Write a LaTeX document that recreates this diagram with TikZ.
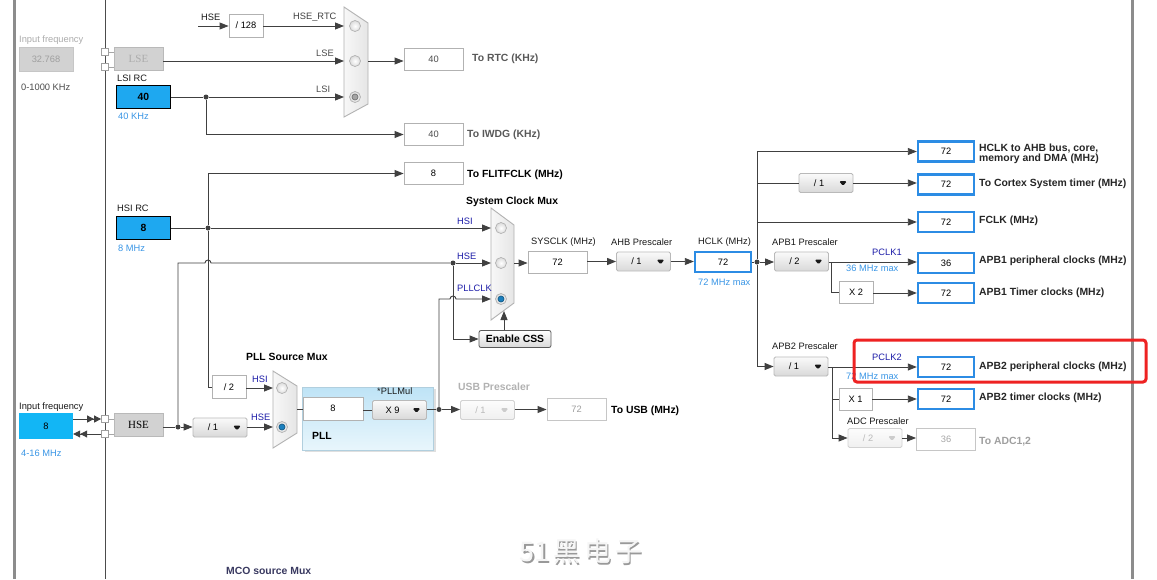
\documentclass[tikz,border=0pt]{standalone}
\usepackage{fontspec}
\setmainfont{Liberation Sans}
\newfontfamily\oscfont{Liberation Serif}
\newfontfamily\cjkfont{Noto Sans CJK SC}
\usepackage{xcolor}
\usepackage{tikz}
\usetikzlibrary{arrows, arrows.meta, shadows}

\newcommand\lblfont{\fontsize{9.3}{10.5}\selectfont}
\newcommand\hdrfont{\fontsize{10.4}{10.6}\selectfont\bfseries}

\definecolor{srcblue}{HTML}{1EA8F0}
\definecolor{inblue}{HTML}{12B6F5}
\definecolor{outblue}{HTML}{2C8CE4}
\definecolor{hintblue}{HTML}{3A96E6}
\definecolor{selnavy}{HTML}{1C1CA8}
\definecolor{radioblue}{HTML}{1A7FBE}
\definecolor{radiogray}{HTML}{A4A4A4}
\definecolor{wiregray}{HTML}{404040}
\definecolor{framegray}{HTML}{8C8C8C}
\definecolor{oscgray}{HTML}{D2D2D2}
\definecolor{pllTop}{HTML}{BEE3F6}
\definecolor{pllBot}{HTML}{E8F6FC}
\definecolor{markred}{HTML}{EE2222}

\tikzset{
	txt/.style={inner sep=0pt, anchor=west, font=\lblfont, text=black!90},
	hdr/.style={inner sep=0pt, anchor=west, font=\hdrfont, text=black!85},
	sel/.style={txt, text=selnavy},
	hint/.style={txt, text=hintblue},
	wire/.style={draw=wiregray, line width=0.9pt},
	arr/.style={wire, -{Triangle[length=9pt,width=7pt]}},
	arrtwo/.style={wire, -{Triangle[length=7pt,width=7pt]Triangle[length=7pt,width=7pt]}},
	valbox/.style={draw=gray!60, fill=white, line width=0.9pt, minimum width=59pt, minimum height=22pt, inner sep=0pt, font=\lblfont},
	outbox/.style={valbox, draw=outblue, line width=2.4pt, minimum width=56pt, minimum height=20pt},
	srcbox/.style={draw=black, line width=1.1pt, fill=srcblue, minimum width=54pt, minimum height=23pt, inner sep=0pt, font=\hdrfont},
	oscbox/.style={draw=gray!55, fill=oscgray, line width=0.9pt, minimum width=49pt, minimum height=23pt, inner sep=0pt, font=\oscfont\fontsize{11}{11}\selectfont},
	port/.style={draw=gray!75, fill=white, line width=0.8pt, minimum size=7pt, inner sep=0pt},
	dot/.style={circle, fill=wiregray, minimum size=5pt, inner sep=0pt},
	mux/.style={draw=gray!60, left color=gray!6, right color=gray!20, line width=0.9pt},
	radio/.style={circle, draw=gray!60, line width=0.7pt, minimum size=11pt, inner sep=0pt, inner color=white, outer color=gray!28},
	radioon/.style={radio, path picture={\filldraw[draw=#1!70!black, fill=#1] (path picture bounding box.center) circle (3pt);}},
	ddbase/.style={draw=gray!55, line width=0.8pt, rounded corners=1.5pt, top color=gray!4, bottom color=gray!30, minimum width=54pt, minimum height=19pt, inner sep=0pt, font=\lblfont,
		execute at begin node={\hbox to 36pt\bgroup\hss}, execute at end node={\hss\egroup\hskip14pt}},
	drop/.style={ddbase, path picture={\fill[#1] ([xshift=-14pt,yshift=2pt]path picture bounding box.east) -- ++(8pt,0pt) -- ++(-4pt,-5pt) -- cycle;}},
	dropbox/.style={drop=black!90},
	dropoff/.style={drop=gray!40, draw=gray!35, top color=gray!2, bottom color=gray!12, text=gray!55},
	cssbtn/.style={draw=black!65, line width=0.8pt, rounded corners=2pt, top color=white, bottom color=gray!30, minimum width=72pt, minimum height=17pt, inner sep=0pt, font=\hdrfont},
	pllpanel/.style={draw=pllTop!80!gray, top color=pllTop, bottom color=pllBot, minimum width=131pt, minimum height=63pt, inner sep=0pt, drop shadow={shadow xshift=2pt, shadow yshift=-2pt, opacity=0.25, fill=gray}}
}

\begin{document}
\begin{tikzpicture}[x=1pt, y=-1pt]
	\useasboundingbox (0,0) rectangle (1157,579);
	\fill[white] (0,0) rectangle (1157,579);
	\draw[framegray, line width=3pt] (14.5,0) -- (14.5,579);
	\draw[framegray, line width=3pt] (1132,0) -- (1132,579);
	\draw[black!70, line width=1pt] (105,0) -- (105,579);

	% low speed clocks
	\node[txt, text=gray!65] (lseFreqLbl) at (19,40) {Input frequency};
	\node[draw=gray!45, fill=oscgray, minimum width=54pt, minimum height=24pt, inner sep=0pt, font=\lblfont, text=gray!75] (lseFreq) at (46,59) {32.768};
	\node[txt, text=black!70] (lseRange) at (21,87) {0-1000 KHz};
	\node[port] (lseP1) at (105,52) {};
	\node[port] (lseP2) at (105,67) {};
	\node[oscbox, text=gray!65] (lse) at (138.5,58.5) {LSE};
	\draw[wire, draw=gray!70] (lseP1.east) -- (lseP1.east -| lse.west);
	\draw[wire, draw=gray!70] (lseP2.east) -- (lseP2.east -| lse.west);

	\node[txt] (lsiName) at (117,78) {LSI RC};
	\node[srcbox] (lsi) at (143.5,97) {40};
	\node[hint] (lsiHint) at (118,116) {40 KHz};

	\node[txt] (hseRtcLbl) at (201,17) {HSE};
	\coordinate (hseRtcTail) at (198,26);
	\node[valbox, minimum width=34pt, minimum height=23pt] (div128) at (246,25.5) {/ 128};
	\draw[arr] (hseRtcTail) -- (div128.west |- hseRtcTail);
	\node[txt, text=black!75] (hseRtcName) at (293,17) {HSE\_RTC};

	\draw[mux] (344,7) -- (368,23) -- (368,104) -- (344,117) -- cycle;
	\node[radio] (rtcR1) at (355,26) {};
	\node[radio] (rtcR2) at (355,61) {};
	\node[radioon=radiogray] (rtcR3) at (355,97) {};
	\coordinate (rtcA) at (344,26);
	\coordinate (rtcB) at (344,61);
	\coordinate (rtcC) at (344,97);
	\coordinate (rtcOut) at (368,61);
	\draw[arr] (div128.east |- rtcA) -- (rtcA);
	\draw[arr] (lse.east |- rtcB) -- (rtcB);
	\node[txt, text=black!70] (lseName) at (316,53) {LSE};
	\node[txt, text=black!70] (lsiLbl) at (316,89) {LSI};
	\node[dot] (lsiJ) at (206,97) {};
	\draw[wire] (lsi.east) -- (lsiJ);
	\draw[arr] (lsiJ) -- (rtcC);

	\node[valbox, text=black!70] (rtcVal) at (433.5,59) {40};
	\draw[arr] (rtcOut) -- (rtcOut -| rtcVal.west);
	\node[hdr, text=black!65] (rtcLbl) at (472,59) {To RTC (KHz)};
	\node[valbox, text=black!70] (iwdgVal) at (433.5,134.5) {40};
	\draw[arr] (lsiJ) |- (iwdgVal.west);
	\node[hdr, text=black!65] (iwdgLbl) at (467,135) {To IWDG (KHz)};

	% HSI and system clock mux
	\node[txt] (hsiName) at (117,208) {HSI RC};
	\node[srcbox] (hsi) at (143.5,228) {8};
	\node[hint] (hsiHint) at (118,248) {8 MHz};
	\node[dot] (hsiJ) at (208,228) {};
	\draw[wire] (hsi.east) -- (hsiJ);
	\node[valbox] (flitVal) at (433.5,173.5) {8};
	\draw[arr] (hsiJ) |- (flitVal.west);
	\node[hdr, text=black] (flitLbl) at (467,175) {To FLITFCLK (MHz)};

	\node[hdr, text=black] (sysMuxLbl) at (466,202) {System Clock Mux};
	\draw[mux] (491,208) -- (514,225) -- (514,303) -- (491,320) -- cycle;
	\node[radio] (sysR1) at (501,228) {};
	\node[radio] (sysR2) at (501,263) {};
	\node[radioon=radioblue] (sysR3) at (501,299) {};
	\coordinate (sysA) at (491,228);
	\coordinate (sysB) at (491,263);
	\coordinate (sysC) at (491,299);
	\coordinate (sysOut) at (514,263);
	\coordinate (sysCss) at (504,311);
	\draw[arr] (hsiJ) -- (sysA);
	\node[sel] (sysHsi) at (457,221) {HSI};
	\node[sel] (sysHse) at (457,256) {HSE};
	\node[sel] (sysPll) at (457,288) {PLLCLK};

	\node[dot] (hseJ) at (178,427) {};
	\node[dot] (hseJ2) at (453,263) {};
	\coordinate (hopA) at (205,263);
	\draw[wire] (hseJ) |- (hopA) arc[start angle=180, end angle=0, radius=3pt] -- (hseJ2);
	\draw[arr] (hseJ2) -- (sysB);
	\node[cssbtn] (css) at (515,339) {Enable CSS};
	\draw[arr] (hseJ2) |- (css.west);
	\draw[arr] (css.north -| sysCss) -- (sysCss);

	% AHB / APB tree
	\node[valbox] (sysclk) at (557.5,262.5) {72};
	\node[txt] (sysclkLbl) at (531,242) {SYSCLK (MHz)};
	\draw[arr] (sysOut) -- (sysOut -| sysclk.west);
	\node[dropbox] (ahb) at (643.5,261.5) {/ 1};
	\node[txt] (ahbLbl) at (611,242) {AHB Prescaler};
	\draw[arr] (sysclk.east |- ahb) -- (ahb.west);
	\node[outbox] (hclk) at (723,262) {72};
	\node[txt] (hclkLbl) at (698,242) {HCLK (MHz)};
	\node[hint] (hclkHint) at (698,282) {72 MHz max};
	\draw[arr] (ahb.east) -- (hclk.west |- ahb);
	\node[dot] (hclkJ) at (757,262) {};
	\draw[wire] (hclk.east) -- (hclkJ);

	\node[outbox] (ahbOut) at (946,151.5) {72};
	\draw[arr] (hclkJ) |- (ahbOut.west);
	\node[hdr, align=left] (ahbOutLbl) at (979,154) {HCLK to AHB bus, core,\\memory and DMA (MHz)};
	\node[dropbox] (cortexDiv) at (826,183) {/ 1};
	\node[outbox] (cortexOut) at (946,184.5) {72};
	\draw[wire] (hclkJ |- cortexDiv) -- (cortexDiv.west);
	\draw[arr] (cortexDiv.east) -- (cortexOut.west |- cortexDiv);
	\node[hdr] (cortexLbl) at (979,184) {To Cortex System timer (MHz)};
	\node[outbox] (fclkOut) at (946,222) {72};
	\draw[arr] (hclkJ |- fclkOut) -- (fclkOut.west);
	\node[hdr] (fclkLbl) at (979,221) {FCLK (MHz)};

	\node[dropbox] (apb1) at (801.5,261.5) {/ 2};
	\node[txt] (apb1Lbl) at (772,242) {APB1 Prescaler};
	\draw[arr] (hclkJ) -- (apb1.west |- hclkJ);
	\node[outbox] (pclk1Out) at (946,263) {36};
	\coordinate (apb1J) at (831,262);
	\draw[arr] (apb1.east |- apb1J) -- (pclk1Out.west |- apb1J);
	\node[sel] (pclk1Lbl) at (872,252) {PCLK1};
	\node[hint] (pclk1Hint) at (846,268) {36 MHz max};
	\node[hdr] (pclk1OutLbl) at (979,261) {APB1 peripheral clocks (MHz)};
	\node[valbox, minimum width=34pt] (mulTwo) at (856,292) {X 2};
	\node[outbox] (tim1Out) at (946,293) {72};
	\draw[wire] (apb1J) |- (mulTwo.west);
	\draw[arr] (mulTwo.east |- tim1Out) -- (tim1Out.west);
	\node[hdr] (tim1Lbl) at (979,293) {APB1 Timer clocks (MHz)};

	\node[dropbox] (apb2) at (801,366.5) {/ 1};
	\node[txt] (apb2Lbl) at (772,346) {APB2 Prescaler};
	\draw[arr] (hclkJ) |- (apb2.west);
	\node[outbox] (pclk2Out) at (946,367) {72};
	\coordinate (apb2J) at (832,367);
	\draw[arr] (apb2.east |- apb2J) -- (pclk2Out.west);
	\node[sel] (pclk2Lbl) at (872,357) {PCLK2};
	\node[hint] (pclk2Hint) at (846,376) {72 MHz max};
	\node[hdr] (pclk2OutLbl) at (979,367) {APB2 peripheral clocks (MHz)};
	\node[valbox, minimum width=33pt] (mulOne) at (855.5,399) {X 1};
	\node[outbox] (tim2Out) at (946,399) {72};
	\draw[wire] (apb2J) |- (mulOne.west);
	\draw[arr] (mulOne.east) -- (tim2Out.west);
	\node[hdr] (tim2Lbl) at (979,398) {APB2 timer clocks (MHz)};
	\node[dropoff] (adcDiv) at (875,438) {/ 2};
	\node[txt] (adcLbl) at (847,421) {ADC Prescaler};
	\draw[arr] (apb2J) |- (adcDiv.west);
	\node[valbox, draw=gray!45, text=gray!70] (adcOut) at (946,439) {36};
	\draw[arr] (adcDiv.east) -- (adcOut.west |- adcDiv);
	\node[hdr, text=gray!75] (adcOutLbl) at (979,442) {To ADC1,2};
	\draw[markred, line width=3pt, rounded corners=3pt] (854,340) rectangle (1146,382);

	% PLL
	\node[hdr, text=black] (pllMuxLbl) at (246,357) {PLL Source Mux};
	\node[valbox, minimum width=34pt, minimum height=23pt] (divTwo) at (229,387) {/ 2};
	\draw[wire] (hsiJ) |- (divTwo.west);
	\draw[mux] (273,371) -- (297,386) -- (297,433) -- (273,448) -- cycle;
	\node[radio] (pllR1) at (282,388) {};
	\node[radioon=radioblue] (pllR2) at (282,427) {};
	\coordinate (pllA) at (273,388);
	\coordinate (pllB) at (273,427);
	\coordinate (pllOut) at (297,409);
	\draw[arr] (divTwo.east |- pllA) -- (pllA);
	\node[sel] (pllHsi) at (252,379) {HSI};
	\node[sel] (pllHse) at (251,417) {HSE};
	\node[dropbox] (hseDiv) at (220,427.5) {/ 1};
	\draw[arr] (hseDiv.east |- pllB) -- (pllB);

	\node[pllpanel] (pll) at (368,418.5) {};
	\node[valbox, minimum width=60pt, minimum height=23pt] (pllIn) at (333,408.5) {8};
	\draw[wire] (pllOut) -- (pllIn.west |- pllOut);
	\node[dropbox] (pllMul) at (399.5,410) {X 9};
	\node[txt] (pllMulLbl) at (377,391) {*PLLMul};
	\node[hdr, text=black] (pllLbl) at (312,436) {PLL};
	\draw[wire] (pllIn.east |- pllMul) -- (pllMul.west);
	\node[dot] (pllJ) at (439,409.5) {};
	\draw[wire] (pllMul.east |- pllJ) -- (pllJ);
	\coordinate (hopB) at (450,299);
	\draw[arr] (pllJ) |- (hopB) arc[start angle=180, end angle=0, radius=3pt] -- (sysC);
	\node[dropoff] (usbDiv) at (487.5,410) {/ 1};
	\node[hdr, text=gray!60] (usbLbl) at (458,387) {USB Prescaler};
	\draw[arr] (pllJ) -- (usbDiv.west |- pllJ);
	\node[valbox, draw=gray!45, text=gray!75] (usbOut) at (576.5,409.5) {72};
	\draw[arr] (usbDiv.east |- usbOut) -- (usbOut.west);
	\node[hdr, text=black] (usbOutLbl) at (611,411) {To USB (MHz)};

	% HSE input
	\node[txt] (hseFreqLbl) at (19,407) {Input frequency};
	\node[fill=inblue, minimum width=54pt, minimum height=26pt, inner sep=0pt, font=\lblfont] (hseFreq) at (46,426) {8};
	\node[hint] (hseRange) at (21,453) {4-16 MHz};
	\node[port] (hseP1) at (105,419) {};
	\node[port] (hseP2) at (105,434) {};
	\draw[arrtwo] (hseFreq.east |- hseP1) -- (hseP1.west);
	\draw[arrtwo] (hseP2.west) -- (hseFreq.east |- hseP2);
	\node[oscbox] (hse) at (138.5,425) {HSE};
	\draw[wire, draw=gray!70] (hseP1.east) -- (hseP1.east -| hse.west);
	\draw[wire, draw=gray!70] (hseP2.east) -- (hseP2.east -| hse.west);
	\draw[wire] (hse.east |- hseJ) -- (hseJ);
	\draw[arr] (hseJ) -- (hseDiv.west |- hseJ);

	\node[hdr, text=gray!75!blue!60!black] (mcoLbl) at (226,571) {MCO source Mux};
	\node[font=\cjkfont\fontsize{27}{27}\selectfont, text=gray!80, inner sep=0pt] (markShadow) at (582.5,553) {51\hspace{4pt}黑\hspace{4pt}电\hspace{4pt}子};
	\node[font=\cjkfont\fontsize{27}{27}\selectfont, text=gray!8, inner sep=0pt] (mark) at (581,551.5) {51\hspace{4pt}黑\hspace{4pt}电\hspace{4pt}子};
\end{tikzpicture}
\end{document}
